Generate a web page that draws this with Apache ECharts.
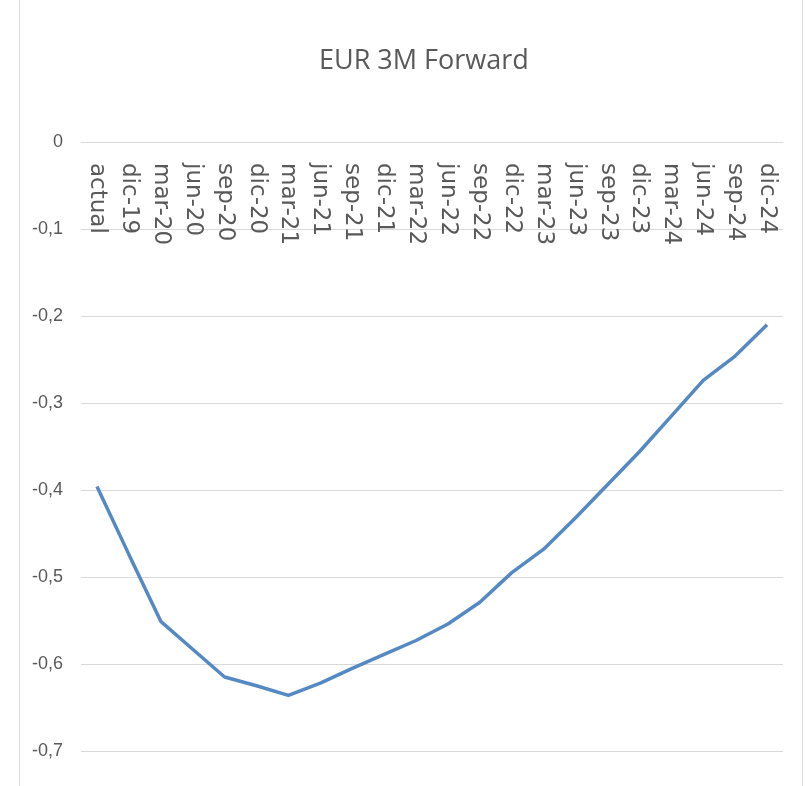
<!DOCTYPE html>
<html>
<head>
<meta charset="utf-8">
<script src="https://cdn.jsdelivr.net/npm/echarts@6/dist/echarts.min.js"></script>
<style>html,body{margin:0;padding:0;background:#fff}#c{width:805px;height:786px}</style>
</head>
<body>
<div id="c"></div>
<script>
const categories = ["actual","dic-19","mar-20","jun-20","sep-20","dic-20","mar-21","jun-21","sep-21","dic-21","mar-22","jun-22","sep-22","dic-22","mar-23","jun-23","sep-23","dic-23","mar-24","jun-24","sep-24","dic-24"];
const forwardValues = [-0.396,-0.474,-0.551,-0.583,-0.615,-0.625,-0.636,-0.622,-0.605,-0.589,-0.573,-0.554,-0.529,-0.495,-0.468,-0.432,-0.394,-0.356,-0.315,-0.274,-0.246,-0.210];
const yTicks = {min: -0.7, max: 0, interval: 0.1};
const titleText = "EUR 3M Forward";

const chart = echarts.init(document.getElementById('c'), null, {renderer: 'canvas'});
chart.setOption({
  animation: false,
  backgroundColor: '#ffffff',
  title: {
    text: titleText, left: 314, top: 43,
    textStyle: {fontFamily: 'Open Sans', fontSize: 27, fontWeight: 'normal', color: '#595959'}
  },
  graphic: [{
    type: 'rect', shape: {x: 19.5, y: -5, width: 783, height: 800},
    style: {fill: null, stroke: '#d9d9d9', lineWidth: 1}, silent: true
  }],
  grid: {left: 81, right: 22, top: 142, bottom: 35, containLabel: false, outerBoundsMode: 'none'},
  xAxis: {
    type: 'category', data: categories, boundaryGap: true, position: 'top',
    axisLine: {show: true, onZero: false, lineStyle: {color: '#d9d9d9', width: 1}},
    axisTick: {show: false},
    axisLabel: {inside: true, rotate: 90, margin: 21, interval: 0, color: '#595959', fontFamily: 'DejaVu Sans', fontSize: 23}
  },
  yAxis: {
    type: 'value', min: yTicks.min, max: yTicks.max, interval: yTicks.interval,
    axisLine: {show: false}, axisTick: {show: false},
    splitLine: {lineStyle: {color: '#d9d9d9', width: 1}},
    axisLabel: {
      margin: 18, color: '#595959', fontFamily: 'Liberation Sans', fontSize: 18,
      formatter: v => (Math.round(v * 10) / 10).toString().replace('.', ',')
    }
  },
  series: [{
    type: 'line', data: forwardValues, symbol: 'none', smooth: false,
    lineStyle: {color: '#5589c3', width: 3.5}
  }]
});
</script>
</body>
</html>
